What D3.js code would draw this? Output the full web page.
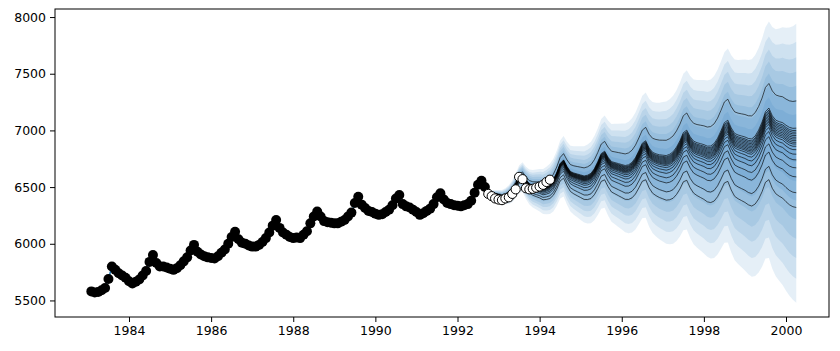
<!DOCTYPE html>
<html>
<head>
<meta charset="utf-8">
<script src="https://cdn.jsdelivr.net/npm/d3@7"></script>
<style>
body{margin:0;background:#fff;}
</style>
</head>
<body>
<div id="chart"></div>
<script>
// monthly series, first value is Jan 1983
var startYear = 1983;

var trainValues = [
    5580, 5570, 5575, 5590, 5610, 5690, 5800, 5770, 5740, 5720, 5700, 5670,
    5650, 5665, 5685, 5720, 5760, 5840, 5900, 5830, 5800, 5800, 5790, 5780,
    5770, 5785, 5810, 5845, 5880, 5940, 5990, 5930, 5905, 5890, 5880, 5875,
    5870, 5890, 5920, 5950, 6000, 6060, 6105, 6040, 6010, 6000, 5985, 5975,
    5975, 5990, 6015, 6050, 6100, 6160, 6210, 6140, 6100, 6080, 6060, 6050,
    6055, 6050, 6080, 6110, 6180, 6240, 6285, 6240, 6200, 6190, 6185, 6180,
    6180, 6195, 6210, 6240, 6275, 6360, 6415, 6345, 6315, 6290, 6280, 6265,
    6255, 6260, 6280, 6300, 6340, 6400, 6430, 6350, 6330, 6320, 6300, 6280,
    6255, 6270, 6290, 6310, 6350, 6410, 6445, 6390, 6360, 6350, 6340, 6335,
    6330, 6340, 6350, 6380, 6450, 6520, 6555, 6500
];

// held out months, Sep 1992 - Mar 1994
var testValues = [6440, 6420, 6400, 6390, 6385, 6400, 6410, 6440, 6480, 6590, 6570, 6490,
    6480, 6485, 6495, 6505, 6520, 6545, 6565];

// central forecast, Sep 1992 - Mar 2000
var fcMedian = [
    6470, 6450, 6440, 6430,
    6420, 6425, 6440, 6470, 6520, 6580, 6600, 6550, 6515, 6500, 6495, 6490,
    6480, 6490, 6505, 6540, 6600, 6680, 6710, 6650, 6605, 6590, 6580, 6570,
    6560, 6565, 6580, 6620, 6680, 6750, 6770, 6715, 6675, 6665, 6655, 6645,
    6635, 6640, 6660, 6700, 6760, 6825, 6845, 6780, 6740, 6725, 6715, 6710,
    6705, 6715, 6735, 6775, 6830, 6900, 6920, 6860, 6820, 6805, 6795, 6785,
    6770, 6770, 6790, 6835, 6900, 6970, 6990, 6920, 6870, 6855, 6845, 6835,
    6820, 6815, 6840, 6890, 6960, 7050, 7080, 7010, 6970, 6955, 6945, 6920,
    6900, 6890, 6890
];

// spread of the widest band round the centre, read at a few dates
var knotYears = [1992.75, 1993.5, 1994.5, 1995.5, 1996.5, 1997.5, 1998.5, 1999.5, 2000.25];
var outerUpper = [10, 110, 230, 350, 480, 600, 720, 860, 1050];
var outerLower = [-10, -130, -280, -440, -600, -780, -960, -1180, -1410];
var bandFracs = [1, 0.85, 0.72, 0.6, 0.48, 0.36, 0.24, 0.12];

// how far the sample paths have drifted apart at the same dates (share of the end spread)
var pathGrowth = [0, 0.08, 0.22, 0.35, 0.48, 0.62, 0.76, 0.89, 1];
// where each sample path ends relative to the centre (Mar 2000)
var pathOffsets = [370, 130, 110, 95, 80, 65, 50, 35, 20, 5, -10, -30, -60, -100, -150, -220, -300, -440, -570];

var xTicks = [1984, 1986, 1988, 1990, 1992, 1994, 1996, 1998, 2000];
var yTicks = [5500, 6000, 6500, 7000, 7500, 8000];

function monthTime(i){
    return startYear + (i + 1) / 12;
}

function init(){

    var w = 840;
    var h = 351;
    var left = 55, right = 829, top = 9, bottom = 317;

    var x = d3.scaleLinear()
                .domain([1982.198, 2001.047])
                .range([left, right]);

    var y = d3.scaleLinear()
                .domain([5354, 8071])
                .range([bottom, top]);

    var svg = d3.select("#chart")
                .append("svg")
                .attr("width", w)
                .attr("height", h);

    var trainData = trainValues.map(function(d, i){
        return {t: monthTime(i), v: d};
    });
    var testData = testValues.map(function(d, i){
        return {t: monthTime(trainValues.length + i), v: d};
    });
    var fcData = fcMedian.map(function(d, i){
        return {t: monthTime(trainValues.length + i), m: d};
    });

    var upScale = d3.scaleLinear().domain(knotYears).range(outerUpper);
    var loScale = d3.scaleLinear().domain(knotYears).range(outerLower);
    var growScale = d3.scaleLinear().domain(knotYears).range(pathGrowth);

    //fan
    bandFracs.forEach(function(f){
        var area = d3.area()
            .x(function(d){ return x(d.t); })
            .y0(function(d){ return y(d.m + f * loScale(d.t)); })
            .y1(function(d){ return y(d.m + f * upScale(d.t)); });
        svg.append("path")
            .datum(fcData)
            .attr("d", area)
            .attr("fill", "#2b7bba")
            .attr("fill-opacity", 0.12);
    });

    //sample paths
    pathOffsets.forEach(function(o){
        var line = d3.line()
            .x(function(d){ return x(d.t); })
            .y(function(d){ return y(d.m + o * growScale(d.t)); });
        svg.append("path")
            .datum(fcData)
            .attr("d", line)
            .attr("fill", "none")
            .attr("stroke", "#000")
            .attr("stroke-width", 0.75)
            .attr("stroke-opacity", 0.85);
    });

    //observed
    svg.append("path")
        .datum(trainData)
        .attr("d", d3.line()
            .x(function(d){ return x(d.t); })
            .y(function(d){ return y(d.v); }))
        .attr("fill", "none")
        .attr("stroke", "#1f77b4")
        .attr("stroke-width", 1.5);

    svg.selectAll("circle.train")
        .data(trainData)
        .enter()
        .append("circle")
        .attr("class", "train")
        .attr("cx", function(d){ return x(d.t); })
        .attr("cy", function(d){ return y(d.v); })
        .attr("r", 5)
        .attr("fill", "#000");

    svg.selectAll("circle.test")
        .data(testData)
        .enter()
        .append("circle")
        .attr("class", "test")
        .attr("cx", function(d){ return x(d.t); })
        .attr("cy", function(d){ return y(d.v); })
        .attr("r", 4.6)
        .attr("fill", "#fff")
        .attr("stroke", "#000")
        .attr("stroke-width", 1);

    //axes
    var xAxis = d3.axisBottom(x)
                .tickValues(xTicks)
                .tickFormat(d3.format("d"))
                .tickSize(5)
                .tickPadding(4);
    var yAxis = d3.axisLeft(y)
                .tickValues(yTicks)
                .tickFormat(d3.format("d"))
                .tickSize(5)
                .tickPadding(4);

    var gx = svg.append("g")
        .attr("transform", "translate(0," + bottom + ")")
        .call(xAxis);
    var gy = svg.append("g")
        .attr("transform", "translate(" + left + ",0)")
        .call(yAxis);

    [gx, gy].forEach(function(g){
        g.select(".domain").remove();
        g.selectAll("text")
            .attr("font-family", "DejaVu Sans, sans-serif")
            .attr("font-size", "12.5px")
            .attr("fill", "#000");
        g.selectAll("line").attr("stroke", "#000");
    });

    svg.append("rect")
        .attr("x", left)
        .attr("y", top)
        .attr("width", right - left)
        .attr("height", bottom - top)
        .attr("fill", "none")
        .attr("stroke", "#000")
        .attr("stroke-width", 1);
}

window.onload = init;
</script>
</body>
</html>
